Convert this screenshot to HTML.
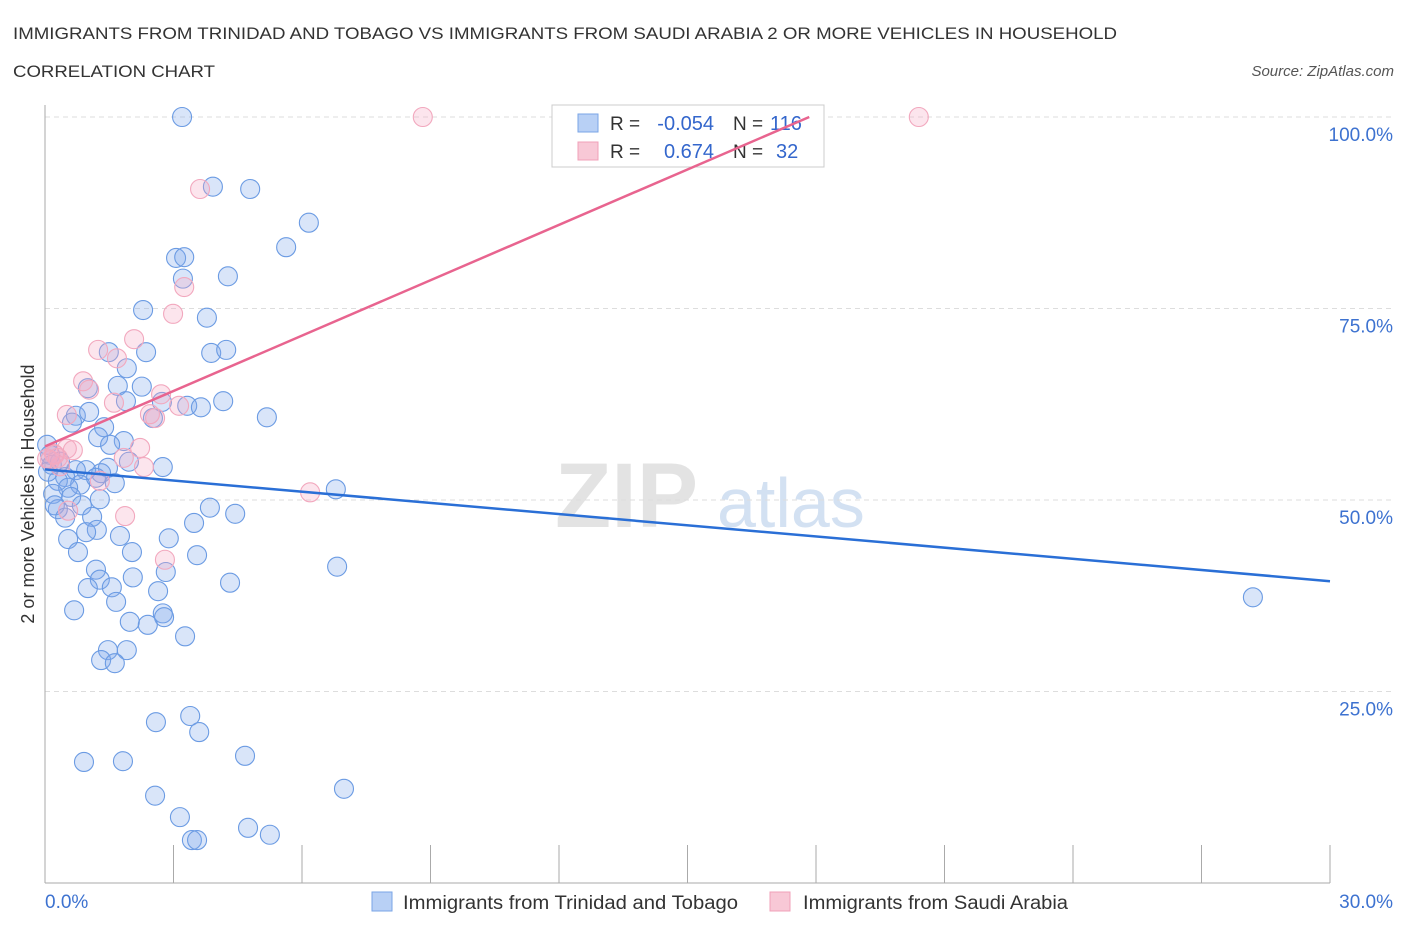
<!DOCTYPE html>
<html><head><meta charset="utf-8"><style>
body{margin:0;background:#fff;font-family:"Liberation Sans",sans-serif;}
svg text{font-family:"Liberation Sans",sans-serif;}
</style></head><body>
<svg id="chart" width="1406" height="930" xmlns="http://www.w3.org/2000/svg">
<text x="13" y="39" font-size="17" fill="#333" textLength="1104" lengthAdjust="spacingAndGlyphs">IMMIGRANTS FROM TRINIDAD AND TOBAGO VS IMMIGRANTS FROM SAUDI ARABIA 2 OR MORE VEHICLES IN HOUSEHOLD</text>
<text x="13" y="77" font-size="17" fill="#333" textLength="202" lengthAdjust="spacingAndGlyphs">CORRELATION CHART</text>
<text x="1394" y="76" font-size="15" fill="#555" font-style="italic" text-anchor="end">Source: ZipAtlas.com</text>
<text x="555" y="527" font-size="92" fill="#ddd" font-family="Liberation Serif" font-weight="bold" opacity="0.8">ZIP</text>
<text x="717" y="527" font-size="70" fill="#c9daf0" opacity="0.8">atlas</text>
<g id="grid"></g>
<g id="axes"></g>
<g>
<rect x="552" y="105" width="272" height="62" fill="#fff" stroke="#ccc"/>
<rect x="578" y="114" width="20" height="18" fill="#b8d0f5" stroke="#7aa5e6"/>
<rect x="578" y="142" width="20" height="18" fill="#f8c8d6" stroke="#f0a0b8"/>
<text x="610" y="130" font-size="19" fill="#333">R =</text>
<text x="714" y="130" font-size="20" fill="#3366cc" text-anchor="end">-0.054</text>
<text x="733" y="130" font-size="19" fill="#333">N =</text>
<text x="770" y="130" font-size="20" fill="#3366cc">116</text>
<text x="610" y="158" font-size="19" fill="#333">R =</text>
<text x="714" y="158" font-size="20" fill="#3366cc" text-anchor="end">0.674</text>
<text x="733" y="158" font-size="19" fill="#333">N =</text>
<text x="776" y="158" font-size="20" fill="#3366cc">32</text>
</g>
<g id="marks"></g>
<text transform="translate(34,494) rotate(-90)" font-size="18" fill="#333" text-anchor="middle">2 or more Vehicles in Household</text>
<g>
<rect x="372" y="892" width="20" height="19" fill="#b8d0f5" stroke="#7aa5e6"/>
<text x="403" y="909" font-size="19" fill="#333" textLength="335" lengthAdjust="spacingAndGlyphs">Immigrants from Trinidad and Tobago</text>
<rect x="770" y="892" width="20" height="19" fill="#f8c8d6" stroke="#f0a0b8"/>
<text x="803" y="909" font-size="19" fill="#333" textLength="265" lengthAdjust="spacingAndGlyphs">Immigrants from Saudi Arabia</text>
</g>
</svg>
<script>
const blueX=[3.20,3.92,4.79,6.16,5.63,3.06,3.25,3.22,4.27,2.29,3.78,2.36,1.49,3.88,4.23,1.91,1.70,2.26,1.00,4.16,1.89,2.73,3.32,3.64,5.18,2.52,0.72,1.03,0.63,1.38,1.24,1.84,1.52,0.05,2.75,1.96,1.47,1.31,0.96,0.72,0.47,0.82,1.19,1.63,0.30,0.54,0.19,0.30,0.61,1.28,0.86,0.23,6.79,3.85,0.47,1.10,4.44,3.48,1.21,0.96,1.75,0.54,2.89,0.77,2.03,3.55,1.19,2.82,1.28,2.05,4.32,1.00,1.56,2.64,0.68,1.66,2.75,1.98,2.78,2.40,3.27,1.47,1.91,1.31,1.63,6.82,28.20,2.59,3.39,3.60,0.91,1.82,4.67,2.57,6.98,3.15,4.74,5.25,3.43,3.55,0.12,0.16,0.35,0.07];
const blueY=[100.0,90.9,90.6,86.2,83.0,81.6,81.7,78.9,79.2,74.8,73.8,69.3,69.3,69.2,69.6,67.2,64.9,64.8,64.6,62.9,62.9,62.8,62.3,62.1,60.8,60.7,61.0,61.5,60.1,59.5,58.2,57.7,57.2,57.2,54.3,55.0,54.2,53.5,53.9,53.9,53.0,52.0,52.9,52.2,52.5,51.6,50.8,48.8,50.4,50.1,49.3,49.3,51.4,49.0,47.7,47.8,48.2,47.0,46.1,45.8,45.3,44.9,45.0,43.2,43.2,42.8,40.9,40.6,39.6,39.9,39.2,38.5,38.6,38.1,35.6,36.7,35.2,34.1,34.7,33.7,32.2,30.4,30.4,29.1,28.7,41.3,37.3,21.0,21.8,19.7,15.8,15.9,16.6,11.4,12.3,8.6,7.2,6.3,5.6,5.6,55.9,54.6,55.0,53.7];
const pinkX=[8.82,20.40,3.62,3.25,2.99,2.08,1.24,1.68,0.89,1.03,1.61,2.71,3.13,2.57,2.45,0.51,0.51,0.65,0.21,0.05,0.35,2.22,1.84,2.31,1.28,0.54,1.87,6.19,2.80,0.23,0.12,0.30];
const pinkY=[100.0,100.0,90.6,77.8,74.3,71.0,69.6,68.5,65.5,64.4,62.7,63.8,62.3,60.7,61.2,61.1,56.7,56.5,56.0,55.4,54.4,56.8,55.5,54.3,52.5,48.6,47.9,51.0,42.2,55.9,55.2,55.5];
const blueTrend=[54.0,39.4];   // y at x=0 and x=30
const pinkTrend=[57.0,2.41];   // intercept, slope per %
const yTicks=[25,50,75,100];
const yTickLabels=["25.0%","50.0%","75.0%","100.0%"];
const xTicks=[0,3,6,9,12,15,18,21,24,27,30];

const NS="http://www.w3.org/2000/svg";
const X0=45,X1=1330,Y0=883,Y100=117;
const sx=v=>X0+(X1-X0)*v/30;
const sy=v=>Y0-(Y0-Y100)*v/100;
function mk(tag,attrs,parent){const e=document.createElementNS(NS,tag);for(const k in attrs)e.setAttribute(k,attrs[k]);parent.appendChild(e);return e;}
const grid=document.getElementById('grid'),axes=document.getElementById('axes'),marks=document.getElementById('marks');
yTicks.forEach((t,i)=>{
  const l=mk('line',{x1:X0,x2:1392,y1:sy(t),y2:sy(t),stroke:'#ddd','stroke-dasharray':'5,4'},grid);
  
  
  const tx=mk('text',{x:1393,y:sy(t)+24,'font-size':19,fill:'#3d72d0','text-anchor':'end'},axes);
  tx.textContent=yTickLabels[i];
  
  
});
let a=mk('line',{x1:X0,x2:X0,y1:105,y2:Y0,stroke:'#aaa'},axes);


a=mk('line',{x1:X0,x2:X1,y1:Y0,y2:Y0,stroke:'#aaa'},axes);


xTicks.forEach(t=>{
  const l=mk('line',{x1:sx(t),x2:sx(t),y1:845,y2:Y0,stroke:'#aaa'},axes);
  
  
});
let t0=mk('text',{x:45,y:908,'font-size':19,fill:'#3d72d0'},axes);t0.textContent='0.0%';


let t1=mk('text',{x:1393,y:908,'font-size':19,fill:'#3d72d0','text-anchor':'end'},axes);t1.textContent='30.0%';


blueX.forEach((x,i)=>{
  const c=mk('circle',{cx:sx(x),cy:sy(blueY[i]),r:9.5,fill:'rgba(130,170,235,0.3)',stroke:'#6b9be3','stroke-width':1.1},marks);
  
  
});
pinkX.forEach((x,i)=>{
  const c=mk('circle',{cx:sx(x),cy:sy(pinkY[i]),r:9.5,fill:'rgba(245,170,195,0.3)',stroke:'#f2a8be','stroke-width':1.1},marks);
  
  
});
let bl=mk('line',{x1:sx(0),y1:sy(blueTrend[0]),x2:sx(30),y2:sy(blueTrend[1]),stroke:'#2a6fd6','stroke-width':2.5},marks);


const pxEnd=(100-pinkTrend[0])/pinkTrend[1];
let pl=mk('line',{x1:sx(0),y1:sy(pinkTrend[0]),x2:sx(pxEnd),y2:sy(100),stroke:'#e8648f','stroke-width':2.5},marks);


</script>
</body></html>
